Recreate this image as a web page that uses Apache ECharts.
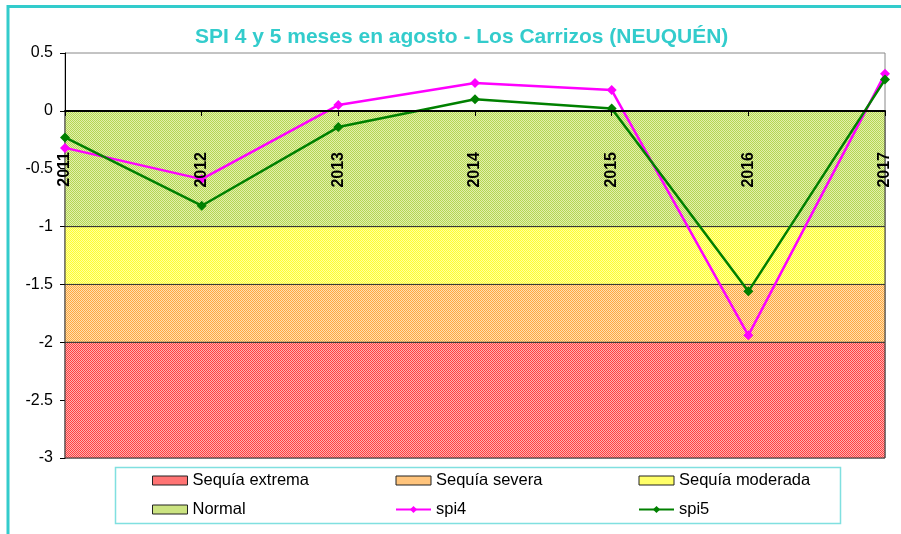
<!DOCTYPE html>
<html>
<head>
<meta charset="utf-8">
<script src="https://cdn.jsdelivr.net/npm/echarts@6/dist/echarts.min.js"></script>
<style>
    html, body { margin: 0; padding: 0; background: #fff; }
    #main { width: 901px; height: 534px; }
</style>
</head>
<body>
<div id="main"></div>
<script>
var years = ['2011', '2012', '2013', '2014', '2015', '2016', '2017'];
var spi4 = [-0.32, -0.59, 0.05, 0.24, 0.18, -1.94, 0.32];
var spi5 = [-0.23, -0.82, -0.14, 0.10, 0.02, -1.56, 0.27];

// bandas de sequia
var bandNames = ['Sequía extrema', 'Sequía severa', 'Sequía moderada', 'Normal'];
var bandLow = [-3, -2, -1.5, -1];
var bandHigh = [-2, -1.5, -1, 0];
var bandColors = [['#ff4040', '#ffb0b0'], ['#ffa840', '#ffe0b0'], ['#ffff30', '#ffffa0'], ['#b4d654', '#e2f0ac']];
var bandLegendColors = ['#ff7474', '#ffc47c', '#ffff68', '#cbe381'];

var yTicks = { min: -3, max: 0.5, step: 0.5 };

var font = 'Liberation Sans, Arial, sans-serif';

/*trama punteada tipo excel*/
function dotPattern(c1, c2) {
    let cv = document.createElement('canvas');
    cv.width = 2;
    cv.height = 2;
    let ctx = cv.getContext('2d');
    ctx.fillStyle = c2;
    ctx.fillRect(0, 0, 2, 2);
    ctx.fillStyle = c1;
    ctx.fillRect(0, 0, 1, 1);
    ctx.fillRect(1, 1, 1, 1);
    return { image: cv, repeat: 'repeat' };
}

var series = [];
bandNames.forEach(function (name, i) {
    let pat = dotPattern(bandColors[i][0], bandColors[i][1]);
    series.push({
        name: name,
        type: 'bar',
        data: [],
        itemStyle: { color: bandLegendColors[i], borderColor: '#222', borderWidth: 1 },
        markArea: {
            silent: true,
            itemStyle: { color: pat, borderColor: '#333', borderWidth: 1 },
            data: [[{ yAxis: bandLow[i] }, { yAxis: bandHigh[i] }]]
        }
    });
});
series.push({
    name: 'spi4', type: 'line', data: spi4, z: 4,
    symbol: 'diamond', symbolSize: 10,
    lineStyle: { color: '#ff00ff', width: 2.5 },
    itemStyle: { color: '#ff00ff' }
});
series.push({
    name: 'spi5', type: 'line', data: spi5, z: 5,
    symbol: 'diamond', symbolSize: 10,
    lineStyle: { color: '#008000', width: 2.5 },
    itemStyle: { color: '#008000' }
});

function legendItem(name) {
    let i = bandNames.indexOf(name);
    if (i < 0) return { name: name };
    return {
        name: name, icon: 'rect',
        itemStyle: { color: bandLegendColors[i], borderColor: '#222', borderWidth: 1 }
    };
}

function legendCol(left, names) {
    return {
        orient: 'vertical', left: left, top: 472, padding: 0,
        itemWidth: 35, itemHeight: 9, itemGap: 12,
        textStyle: { fontFamily: font, fontSize: 16.5, color: '#000' },
        data: names.map(legendItem)
    };
}

var myChart = echarts.init(document.getElementById('main'));
myChart.setOption({
    animation: false,
    backgroundColor: '#fff',
    title: {
        text: 'SPI 4 y 5 meses en agosto - Los Carrizos (NEUQUÉN)',
        left: 195, top: 27, padding: 0,
        textStyle: { fontFamily: font, fontSize: 21, fontWeight: 'bold', color: '#33cccc' }
    },
    graphic: [
        { type: 'rect', shape: { x: 8, y: 6.5, width: 910, height: 560 }, style: { fill: 'none', stroke: '#33cccc', lineWidth: 3 }, silent: true },
        { type: 'rect', shape: { x: 115.5, y: 467.5, width: 725, height: 56 }, style: { fill: 'none', stroke: '#80e0e0', lineWidth: 1.5 }, silent: true }
    ],
    legend: [
        legendCol(152, ['Sequía extrema', 'Normal']),
        legendCol(395, ['Sequía severa', 'spi4']),
        legendCol(638, ['Sequía moderada', 'spi5'])
    ],
    grid: { left: 65, right: 16, top: 53, bottom: 76, show: true, borderColor: '#888', borderWidth: 1 },
    xAxis: {
        type: 'category', data: years, boundaryGap: false, z: 10,
        // eje subido hasta y = 0
        offset: -347,
        axisLine: { onZero: false, lineStyle: { color: '#000', width: 2 } },
        axisTick: { show: true, length: 5, lineStyle: { color: '#000' } },
        axisLabel: { rotate: 90, margin: 41, fontFamily: font, fontSize: 16, fontWeight: 'bold', color: '#000' },
        splitLine: { show: false }
    },
    yAxis: {
        type: 'value', min: yTicks.min, max: yTicks.max, interval: yTicks.step,
        axisLine: { show: true, lineStyle: { color: '#000', width: 1 } },
        axisTick: { show: true, length: 5, lineStyle: { color: '#000' } },
        axisLabel: { margin: 12, fontFamily: font, fontSize: 16, color: '#000' },
        splitLine: { show: false }
    },
    series: series
});
</script>
</body>
</html>
